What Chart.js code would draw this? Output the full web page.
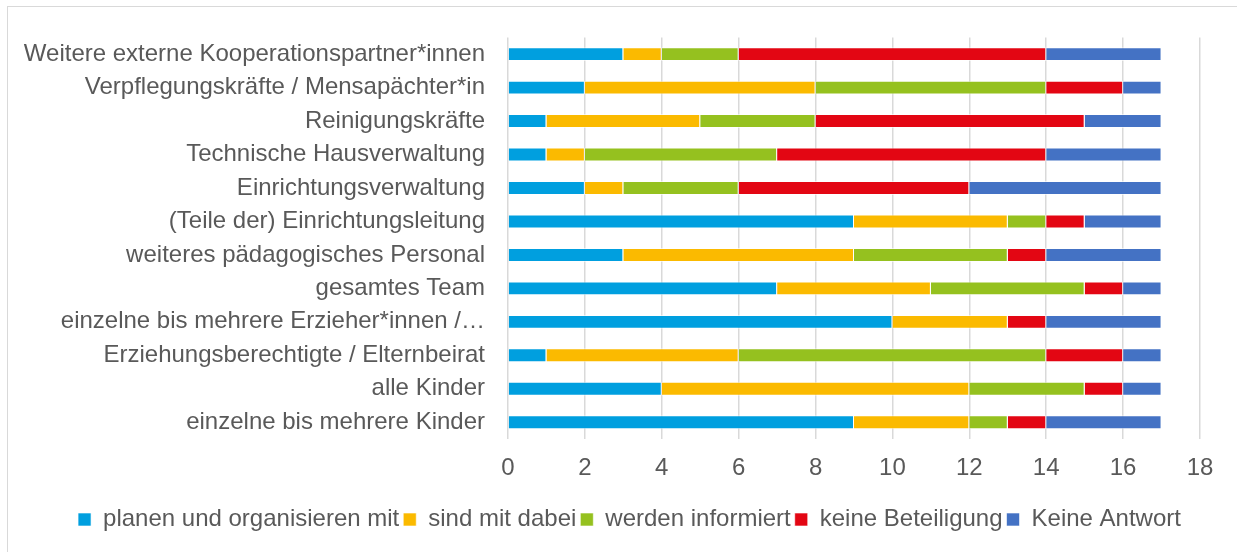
<!DOCTYPE html>
<html>
<head>
<meta charset="utf-8">
<script src="https://cdn.jsdelivr.net/npm/chart.js@4/dist/chart.umd.min.js"></script>
<style>
  html, body { margin: 0; padding: 0; background: #fff; overflow: hidden; }
  #frame {
    position: absolute; left: 7px; top: 6px; width: 1300px; height: 600px;
    border: 1.5px solid #d9d9d9; box-sizing: border-box;
  }
  #wrap { position: absolute; left: 0; top: 0; width: 1237px; height: 552px; }
</style>
</head>
<body>
<div id="frame"></div>
<div id="wrap"><canvas id="chart" width="1237" height="552"></canvas></div>
<script>
// Categories, top to bottom as shown
const categories = [
    "Weitere externe Kooperationspartner*innen",
    "Verpflegungskräfte / Mensapächter*in",
    "Reinigungskräfte",
    "Technische Hausverwaltung",
    "Einrichtungsverwaltung",
    "(Teile der) Einrichtungsleitung",
    "weiteres pädagogisches Personal",
    "gesamtes Team",
    "einzelne bis mehrere Erzieher*innen /…",
    "Erziehungsberechtigte / Elternbeirat",
    "alle Kinder",
    "einzelne bis mehrere Kinder",
];

const planen = [3, 2, 1, 1, 2, 9, 3, 7, 10, 1, 4, 9];
const dabei = [1, 6, 4, 1, 1, 4, 6, 4, 3, 5, 8, 3];
const informiert = [2, 6, 3, 5, 3, 1, 4, 4, 0, 8, 3, 1];
const keineBeteiligung = [8, 2, 7, 7, 6, 1, 1, 1, 1, 2, 1, 1];
const keineAntwort = [3, 1, 2, 3, 5, 2, 3, 1, 3, 1, 1, 3];

const seriesNames = [
    "planen und organisieren mit",
    "sind mit dabei",
    "werden informiert",
    "keine Beteiligung",
    "Keine Antwort",
];

const C_BLUE = "#009fdf";
const C_YELLOW = "#fbba00";
const C_GREEN = "#95c11f";
const C_RED = "#e30613";
const C_DARKBLUE = "#4472c4";
const TEXT = "#595959";
const GRID = "#d9d9d9";
const FONT = "'Liberation Sans', Arial, sans-serif";

const seriesData = [planen, dabei, informiert, keineBeteiligung, keineAntwort];
const seriesColors = [C_BLUE, C_YELLOW, C_GREEN, C_RED, C_DARKBLUE];

// The original legend sits a bit right of the canvas centre: nudge it.
const legendShift = {
    id: "legendShift",
    afterLayout(chart) {
        if (chart.legend) {
            chart.legend.left += 26;
            chart.legend.right += 26;
        }
    },
};

new Chart(document.getElementById("chart"), {
    type: "bar",
    data: {
        labels: categories,
        datasets: seriesData.map((d, i) => ({
            label: seriesNames[i],
            data: d,
            backgroundColor: seriesColors[i],
            borderColor: "rgba(255,255,255,0.6)",
            borderWidth: 1,
            categoryPercentage: 1,
            barPercentage: 0.416,
        })),
    },
    options: {
        indexAxis: "y",
        responsive: false,
        animation: false,
        layout: { padding: { left: 7, top: 35, right: 37, bottom: 10.5 } },
        scales: {
            x: {
                stacked: true,
                min: 0,
                max: 18,
                ticks: {
                    stepSize: 2,
                    color: TEXT,
                    font: { family: FONT, size: 24 },
                    padding: 15,
                },
                grid: { color: GRID, lineWidth: 1.5, drawTicks: false },
                border: { display: false },
                afterFit: (axis) => { axis.height = 64.5; },
            },
            y: {
                stacked: true,
                ticks: {
                    color: TEXT,
                    font: { family: FONT, size: 24 },
                    padding: 23,
                    autoSkip: false,
                },
                grid: { display: false, drawTicks: false },
                border: { display: false },
                afterFit: (axis) => { axis.width = 501; },
            },
        },
        plugins: {
            legend: {
                position: "bottom",
                labels: {
                    color: TEXT,
                    font: { family: FONT, size: 24 },
                    boxWidth: 13,
                    boxHeight: 13,
                    padding: 4,
                },
            },
            tooltip: { enabled: false },
        },
    },
    plugins: [legendShift],
});
</script>
</body>
</html>
